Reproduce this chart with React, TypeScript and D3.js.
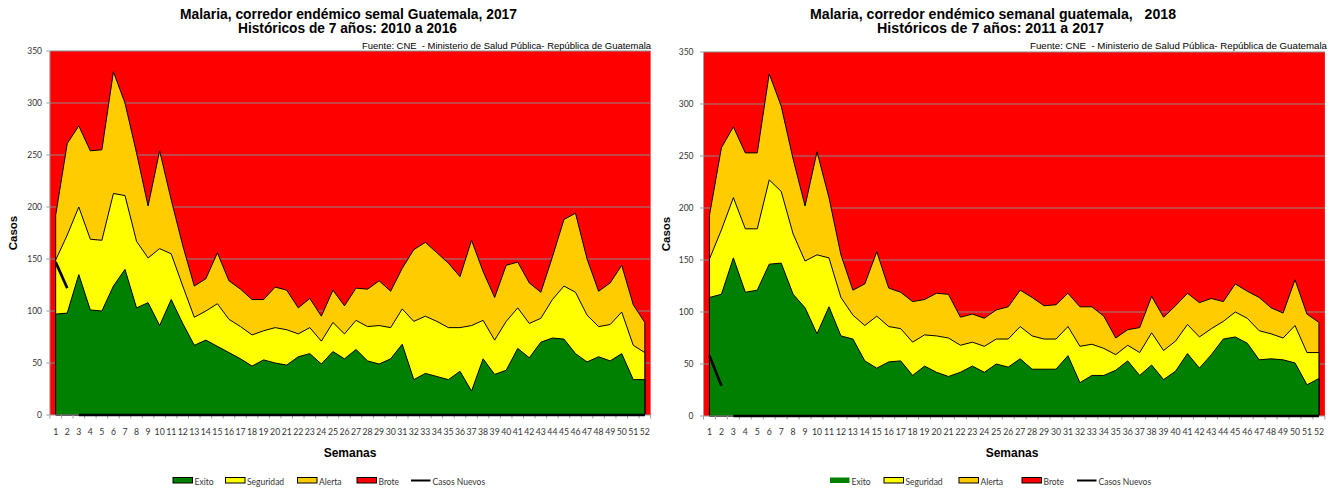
import React from 'react';
import * as d3 from 'd3';

// semanas epidemiológicas
const semanas = [
  1, 2, 3, 4, 5, 6, 7, 8, 9, 10, 11, 12, 13, 14, 15, 16, 17, 18, 19, 20, 21, 22, 23, 24, 25, 26,
  27, 28, 29, 30, 31, 32, 33, 34, 35, 36, 37, 38, 39, 40, 41, 42, 43, 44, 45, 46, 47, 48, 49, 50, 51, 52,
];
const yTicks = [0, 50, 100, 150, 200, 250, 300, 350];

// 2017 (históricos 2010-2016)
const alerta2017 = [
  192, 261, 278, 254, 255, 330, 300, 252, 201, 254, 207, 163, 124, 131, 156, 129, 121, 111, 111, 123, 120, 103, 112, 95, 120, 105,
  122, 121, 129, 119, 141, 159, 166, 156, 146, 133, 168, 138, 113, 144, 147, 127, 118, 152, 188, 194, 150, 119, 127, 144, 106, 89,
];
const seguridad2017 = [
  149, 173, 200, 169, 168, 213, 211, 167, 151, 160, 155, 124, 94, 100, 107, 92, 85, 77, 81, 84, 82, 78, 84, 71, 89, 78,
  91, 85, 86, 84, 102, 90, 95, 90, 84, 84, 86, 91, 72, 90, 103, 88, 93, 111, 124, 118, 96, 85, 87, 99, 67, 60,
];
const exito2017 = [
  97, 98, 135, 101, 100, 124, 140, 103, 108, 86, 111, 88, 67, 72, 66, 60, 54, 47, 53, 50, 48, 56, 59, 49, 61, 54,
  63, 52, 49, 54, 68, 34, 40, 37, 34, 42, 23, 54, 39, 43, 64, 55, 70, 74, 73, 59, 51, 56, 52, 59, 34, 34,
];
const casosNuevos2017 = [
  147, 122, 0, 0, 0, 0, 0, 0, 0, 0, 0, 0, 0, 0, 0, 0, 0, 0, 0, 0, 0, 0, 0, 0, 0, 0,
  0, 0, 0, 0, 0, 0, 0, 0, 0, 0, 0, 0, 0, 0, 0, 0, 0, 0, 0, 0, 0, 0, 0, 0, 0, 0,
];

// 2018 (históricos 2011-2017)
const alerta2018 = [
  193, 258, 278, 253, 253, 329, 298, 247, 202, 254, 210, 155, 121, 127, 158, 123, 119, 110, 112, 118, 117, 95, 98, 94, 102, 105,
  121, 114, 106, 107, 118, 105, 105, 96, 75, 83, 85, 115, 95, 106, 118, 109, 113, 110, 127, 120, 114, 104, 99, 131, 98, 90,
];
const seguridad2018 = [
  151, 179, 210, 180, 180, 227, 216, 175, 149, 155, 152, 114, 97, 87, 96, 86, 84, 71, 78, 77, 75, 68, 71, 67, 74, 74,
  86, 77, 74, 74, 86, 67, 69, 65, 59, 68, 61, 80, 63, 72, 88, 76, 84, 91, 100, 94, 82, 79, 75, 87, 61, 61,
];
const exito2018 = [
  114, 117, 152, 119, 121, 146, 147, 117, 104, 79, 105, 77, 74, 53, 46, 52, 53, 39, 48, 42, 38, 42, 48, 42, 50, 47,
  55, 45, 45, 45, 58, 32, 39, 39, 44, 53, 39, 49, 35, 43, 60, 46, 59, 74, 76, 70, 54, 55, 54, 51, 30, 36,
];
const casosNuevos2018 = [
  58, 29, 0, 0, 0, 0, 0, 0, 0, 0, 0, 0, 0, 0, 0, 0, 0, 0, 0, 0, 0, 0, 0, 0, 0, 0,
  0, 0, 0, 0, 0, 0, 0, 0, 0, 0, 0, 0, 0, 0, 0, 0, 0, 0, 0, 0, 0, 0, 0, 0, 0, 0,
];

const fuente = 'Fuente: CNE  - Ministerio de Salud Pública- República de Guatemala';
const leyenda = ['Exito', 'Seguridad', 'Alerta', 'Brote', 'Casos Nuevos'];

const COLORS = {
  exito: '#008000',
  seguridad: '#FFFF00',
  alerta: '#FFCC00',
  brote: '#FF0000',
  grid: '#8a8a8a',
  axis: '#a0a0a0',
};

const tickFont = 'Lato, "Open Sans", sans-serif';
const titleFont = '"Liberation Sans Narrow", "Liberation Sans", Arial, sans-serif';

const panels = [
  {
    key: '2017',
    title1: 'Malaria, corredor endémico semal Guatemala, 2017',
    title2: 'Históricos de 7 años: 2010 a 2016',
    t1: { x: 180, w: 337 },
    t2: { x: 238, w: 219 },
    x0: 49.9, x1: 650.6, yBase: 415, yTop: 51,
    yTitleX: 17, yLabelX: 42, fuente: { x: 362, w: 289 }, semanasX: 350,
    legendX: [173, 225.5, 297.5, 357, 411],
    greenBorder: true,
    alerta: alerta2017, seguridad: seguridad2017, exito: exito2017, casos: casosNuevos2017,
  },
  {
    key: '2018',
    title1: 'Malaria, corredor endémico semanal guatemala,   2018',
    title2: 'Históricos de 7 años: 2011 a 2017',
    t1: { x: 810, w: 366 },
    t2: { x: 877, w: 227 },
    x0: 703.5, x1: 1324.9, yBase: 416, yTop: 52,
    yTitleX: 670, yLabelX: 693.5, fuente: { x: 1030, w: 297 }, semanasX: 1012,
    legendX: [830, 884, 959, 1022, 1077],
    greenBorder: false,
    alerta: alerta2018, seguridad: seguridad2018, exito: exito2018, casos: casosNuevos2018,
  },
];

type PanelDef = typeof panels[number];

function Corredor({ p }: { p: PanelDef }) {
  const x = d3.scaleBand<number>().domain(semanas).range([p.x0, p.x1]).padding(0);
  const bw = x.bandwidth();
  const cx = (w: number) => (x(w) as number) + bw / 2;
  const y = d3.scaleLinear().domain([0, 350]).range([p.yBase, p.yTop]);

  const area = d3
    .area<number>()
    .x((_, i) => cx(semanas[i]))
    .y0(y(0))
    .y1((d) => y(d));

  // casos nuevos: tramo reportado y tramo en cero, sin unirlos
  const line = d3
    .line<[number, number]>()
    .x((d) => cx(d[0]))
    .y((d) => y(d[1]));
  const reportados: [number, number][] = [];
  const ceros: [number, number][] = [];
  p.casos.forEach((v, i) => {
    if (v > 0) reportados.push([semanas[i], v]);
    else ceros.push([semanas[i], v]);
  });

  const midY = (p.yBase + p.yTop) / 2;
  const legendFill = [COLORS.exito, COLORS.seguridad, COLORS.alerta, COLORS.brote];

  return (
    <g>
      {/* titles */}
      <text
        x={p.t1.x}
        y={19}
        textLength={p.t1.w}
        lengthAdjust="spacingAndGlyphs"
        fontFamily={titleFont}
        fontWeight="bold"
        fontSize={14}
        style={{ whiteSpace: 'pre' }}
      >
        {p.title1}
      </text>
      <text
        x={p.t2.x}
        y={32.5}
        textLength={p.t2.w}
        lengthAdjust="spacingAndGlyphs"
        fontFamily={titleFont}
        fontWeight="bold"
        fontSize={14}
      >
        {p.title2}
      </text>
      <text
        x={p.fuente.x}
        y={49}
        textLength={p.fuente.w}
        lengthAdjust="spacingAndGlyphs"
        fontFamily='"Liberation Sans", Arial, sans-serif'
        fontSize={8.6}
        style={{ whiteSpace: 'pre' }}
      >
        {fuente}
      </text>

      {/* plot background = Brote */}
      <rect x={p.x0} y={y(350)} width={p.x1 - p.x0} height={y(0) - y(350)} fill={COLORS.brote} />
      {yTicks.slice(1).map((t) => (
        <line key={t} x1={p.x0} x2={p.x1} y1={y(t)} y2={y(t)} stroke={COLORS.grid} strokeWidth={1} />
      ))}

      <path d={area(p.alerta) ?? ''} fill={COLORS.alerta} stroke="#000" strokeWidth={1} strokeLinejoin="round" />
      <path d={area(p.seguridad) ?? ''} fill={COLORS.seguridad} stroke="#000" strokeWidth={1} strokeLinejoin="round" />
      <path d={area(p.exito) ?? ''} fill={COLORS.exito} stroke="#000" strokeWidth={1} strokeLinejoin="round" />

      {/* axes */}
      <line x1={p.x0} x2={p.x1} y1={y(0)} y2={y(0)} stroke={COLORS.axis} strokeWidth={1.2} />
      <line x1={p.x0} x2={p.x0} y1={y(350)} y2={y(0)} stroke={COLORS.axis} strokeWidth={1} />
      {semanas.map((w) => (
        <line key={'xt' + w} x1={x(w)} x2={x(w)} y1={y(0)} y2={y(0) + 3.5} stroke={COLORS.axis} />
      ))}
      <line x1={p.x1} x2={p.x1} y1={y(0)} y2={y(0) + 3.5} stroke={COLORS.axis} />
      {yTicks.map((t) => (
        <g key={'yt' + t}>
          <line x1={p.x0 - 3.5} x2={p.x0} y1={y(t)} y2={y(t)} stroke={COLORS.axis} />
          <text x={p.yLabelX} y={y(t) + 3} textAnchor="end" fontFamily={tickFont} fontSize={8.5} fill="#333">
            {t}
          </text>
        </g>
      ))}
      {semanas.map((w) => (
        <text key={'xl' + w} x={cx(w)} y={435} textAnchor="middle" fontFamily={tickFont} fontSize={8.7} fill="#333">
          {w}
        </text>
      ))}

      {/* casos nuevos */}
      <path d={line(reportados) ?? ''} fill="none" stroke="#000" strokeWidth={2.6} />
      <path d={line(ceros) ?? ''} fill="none" stroke="#000" strokeWidth={2.4} />

      {/* axis titles */}
      <text
        transform={`translate(${p.yTitleX},${midY}) rotate(-90)`}
        textAnchor="middle"
        fontFamily='"Liberation Sans", Arial, sans-serif'
        fontWeight="bold"
        fontSize={11.5}
      >
        Casos
      </text>
      <text x={p.semanasX} y={457} textAnchor="middle" fontFamily='"Liberation Sans", Arial, sans-serif' fontWeight="bold" fontSize={12}>
        Semanas
      </text>

      {/* legend */}
      {leyenda.map((name, i) => {
        const lx = p.legendX[i];
        return (
          <g key={name}>
            {i < 4 ? (
              <rect
                x={lx}
                y={477.5}
                width={19.5}
                height={5.5}
                fill={legendFill[i]}
                stroke={i === 0 && !p.greenBorder ? 'none' : '#000'}
                strokeWidth={1}
              />
            ) : (
              <line x1={lx} x2={lx + 19.5} y1={480.5} y2={480.5} stroke="#000" strokeWidth={2} />
            )}
            <text x={lx + 21.5} y={484.5} fontFamily={tickFont} fontSize={8.5} fill="#333">
              {name}
            </text>
          </g>
        );
      })}
    </g>
  );
}

export default function App() {
  return (
    <svg
      width={1338}
      height={494}
      style={{ position: 'absolute', left: 0, top: 0, display: 'block', background: '#fff' }}
    >
      {panels.map((p) => (
        <Corredor key={p.key} p={p} />
      ))}
    </svg>
  );
}
